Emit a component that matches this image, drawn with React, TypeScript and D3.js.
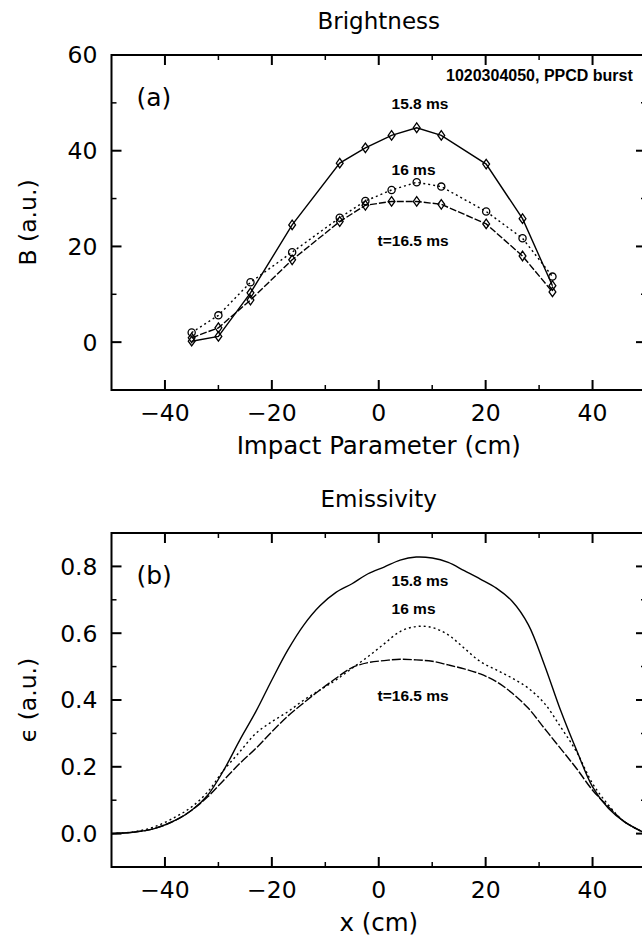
import React from 'react';
import * as d3 from 'd3';

const W = 642;
const H = 939;

// Panel (a): brightness vs impact parameter
const impactX = [-35, -30, -24, -16.2, -7.3, -2.5, 2.4, 7.1, 11.7, 20.1, 26.9, 32.5];
const bright158 = [0.2, 1.2, 10.3, 24.5, 37.4, 40.6, 43.2, 44.8, 43.2, 37.2, 25.8, 11.8];
const bright16 = [2.0, 5.6, 12.5, 18.8, 26.0, 29.5, 31.8, 33.4, 32.5, 27.3, 21.7, 13.7];
const bright165 = [0.9, 3.0, 8.8, 17.2, 25.2, 28.6, 29.4, 29.4, 28.8, 24.7, 18.0, 10.5];

// Panel (b): emissivity vs x
const emisX = [-50, -46, -42, -38, -35, -32, -29, -26, -23, -20, -17, -14, -11, -8, -5, -2, 1, 4, 7, 10, 13, 16, 19, 22, 25, 28, 31, 34, 37, 40, 43, 46, 50];
const emis158 = [0, 0.004, 0.015, 0.04, 0.07, 0.115, 0.19, 0.28, 0.365, 0.46, 0.55, 0.625, 0.682, 0.722, 0.748, 0.778, 0.798, 0.819, 0.828, 0.825, 0.812, 0.787, 0.762, 0.735, 0.695, 0.625, 0.505, 0.37, 0.25, 0.14, 0.075, 0.035, 0];
const emis16 = [0, 0.005, 0.02, 0.05, 0.08, 0.125, 0.19, 0.245, 0.3, 0.335, 0.365, 0.4, 0.43, 0.46, 0.495, 0.53, 0.568, 0.605, 0.62, 0.617, 0.595, 0.555, 0.515, 0.49, 0.465, 0.435, 0.39, 0.32, 0.245, 0.15, 0.085, 0.035, 0];
const emis165 = [0, 0.004, 0.015, 0.04, 0.07, 0.11, 0.16, 0.21, 0.255, 0.305, 0.352, 0.392, 0.43, 0.465, 0.497, 0.512, 0.518, 0.522, 0.52, 0.516, 0.505, 0.493, 0.478, 0.455, 0.42, 0.375, 0.315, 0.255, 0.195, 0.13, 0.08, 0.035, 0];

const xDomain = [-50, 50];
const xMajor = [-40, -20, 0, 20, 40];
const xMinor = [-30, -10, 10, 30];
const bMajor = [0, 20, 40, 60];
const bMinor = [-10, 10, 30, 50];
const eMajor = [0, 0.2, 0.4, 0.6, 0.8];
const eMinor = [-0.1, 0.1, 0.3, 0.5, 0.7, 0.9];

const FONT = "'DejaVu Sans', sans-serif";
const LFONT = "'Liberation Sans', Arial, sans-serif";

type Series = { ys: number[]; dash: string; marker?: 'diamond' | 'circle' };

function Panel(props: {
  top: number; bottom: number; left: number; right: number;
  yDomain: [number, number];
  yMajor: number[]; yMinor: number[]; yFmt: (v: number) => string;
  xs: number[]; series: Series[]; smooth: boolean;
  title: string; xlabel: string; ylabel: React.ReactNode; tag: string;
  labels: { text: string; x: number; y: number; dx?: number }[];
  extra?: React.ReactNode;
}) {
  const { top, bottom, left, right } = props;
  const x = d3.scaleLinear().domain(xDomain).range([left, right]);
  const y = d3.scaleLinear().domain(props.yDomain).range([bottom, top]);
  const line = d3.line<number>()
    .x((_, i) => x(props.xs[i]))
    .y((d) => y(d))
    .curve(props.smooth ? d3.curveCatmullRom.alpha(0.5) : d3.curveLinear);
  const inRange = (v: number) => v > props.yDomain[0] && v < props.yDomain[1];
  const majT = 10, minT = 5;
  return (
    <g>
      <text x={(left + right) / 2} y={top - 26} textAnchor="middle" fontFamily={FONT} fontSize={23}>{props.title}</text>
      {props.series.map((s, k) => (
        <g key={k}>
          <path d={line(s.ys) || ''} fill="none" stroke="#000" strokeWidth={1.4} strokeDasharray={s.dash} />
          {s.marker && s.ys.map((v, i) => {
            const cx = x(props.xs[i]);
            const cy = y(v);
            return s.marker === 'circle'
              ? <circle key={i} cx={cx} cy={cy} r={3.6} fill="none" stroke="#000" strokeWidth={1.3} />
              : <path key={i} d={`M${cx},${cy - 4.8}L${cx + 3.4},${cy}L${cx},${cy + 4.8}L${cx - 3.4},${cy}Z`} fill="none" stroke="#000" strokeWidth={1.3} />;
          })}
        </g>
      ))}
      <rect x={left} y={top} width={right - left} height={bottom - top} fill="none" stroke="#000" strokeWidth={2} />
      {xMajor.map((v) => (
        <g key={'xm' + v}>
          <line x1={x(v)} x2={x(v)} y1={bottom} y2={bottom - majT} stroke="#000" strokeWidth={2} />
          <line x1={x(v)} x2={x(v)} y1={top} y2={top + majT} stroke="#000" strokeWidth={2} />
          <text x={x(v)} y={bottom + 31} textAnchor="middle" fontFamily={FONT} fontSize={23.5}>{v < 0 ? '\u2212' + Math.abs(v) : String(v)}</text>
        </g>
      ))}
      {xMinor.map((v) => (
        <g key={'xn' + v}>
          <line x1={x(v)} x2={x(v)} y1={bottom} y2={bottom - minT} stroke="#000" strokeWidth={1.5} />
          <line x1={x(v)} x2={x(v)} y1={top} y2={top + minT} stroke="#000" strokeWidth={1.5} />
        </g>
      ))}
      {props.yMajor.map((v) => (
        <g key={'ym' + v}>
          {inRange(v) && <line x1={left} x2={left + majT} y1={y(v)} y2={y(v)} stroke="#000" strokeWidth={2} />}
          {inRange(v) && <line x1={right} x2={right - majT} y1={y(v)} y2={y(v)} stroke="#000" strokeWidth={2} />}
          <text x={left - 14} y={y(v)} dy="0.36em" textAnchor="end" fontFamily={FONT} fontSize={23.5}>{props.yFmt(v)}</text>
        </g>
      ))}
      {props.yMinor.filter(inRange).map((v) => (
        <g key={'yn' + v}>
          <line x1={left} x2={left + minT} y1={y(v)} y2={y(v)} stroke="#000" strokeWidth={1.5} />
          <line x1={right} x2={right - minT} y1={y(v)} y2={y(v)} stroke="#000" strokeWidth={1.5} />
        </g>
      ))}
      <text x={(left + right) / 2} y={bottom + 64} textAnchor="middle" fontFamily={FONT} fontSize={24.5}>{props.xlabel}</text>
      <text transform={`translate(${36},${(top + bottom) / 2}) rotate(-90)`} textAnchor="middle" fontFamily={FONT} fontSize={23.5}>{props.ylabel}</text>
      <text x={left + 25} y={top + 51} fontFamily={FONT} fontSize={25}>{props.tag}</text>
      {props.labels.map((l, i) => (
        <text key={i} x={x(l.x) + (l.dx || 0)} y={y(l.y)} dy="0.36em" fontFamily={LFONT} fontWeight="bold" fontSize={15.5}>{l.text}</text>
      ))}
      {props.extra}
    </g>
  );
}

export default function App() {
  const left = 111.5, right = 646;
  return (
    <svg width={W} height={H} viewBox={`0 0 ${W} ${H}`} style={{ display: 'block', position: 'absolute', left: 0, top: 0, background: '#fff' }}>
      <rect width={W} height={H} fill="#fff" />
      <Panel
        top={55} bottom={390} left={left} right={right}
        yDomain={[-10, 60]} yMajor={bMajor} yMinor={bMinor} yFmt={(v) => String(v)}
        xs={impactX} smooth={false}
        series={[
          { ys: bright158, dash: '', marker: 'diamond' },
          { ys: bright16, dash: '2,3', marker: 'circle' },
          { ys: bright165, dash: '7,2', marker: 'diamond' },
        ]}
        title="Brightness" xlabel="Impact Parameter (cm)" ylabel="B (a.u.)" tag="(a)"
        labels={[
          { text: '15.8 ms', x: 2.4, y: 49.9 },
          { text: '16 ms', x: 2.4, y: 36.1 },
          { text: 't=16.5 ms', x: 2.4, y: 21.3, dx: -14 },
        ]}
        extra={<text x={446} y={75} dy="0.36em" fontFamily={LFONT} fontWeight="bold" fontSize={16}>1020304050, PPCD burst</text>}
      />
      <Panel
        top={533} bottom={867} left={left} right={right}
        yDomain={[-0.1, 0.9]} yMajor={eMajor} yMinor={eMinor} yFmt={(v) => v.toFixed(1)}
        xs={emisX} smooth={true}
        series={[
          { ys: emis158, dash: '' },
          { ys: emis16, dash: '2,3' },
          { ys: emis165, dash: '9,2' },
        ]}
        title="Emissivity" xlabel="x (cm)" ylabel={"\u03F5 (a.u.)"} tag="(b)"
        labels={[
          { text: '15.8 ms', x: 2.4, y: 0.759 },
          { text: '16 ms', x: 2.4, y: 0.673 },
          { text: 't=16.5 ms', x: 2.4, y: 0.415, dx: -14 },
        ]}
      />
    </svg>
  );
}
